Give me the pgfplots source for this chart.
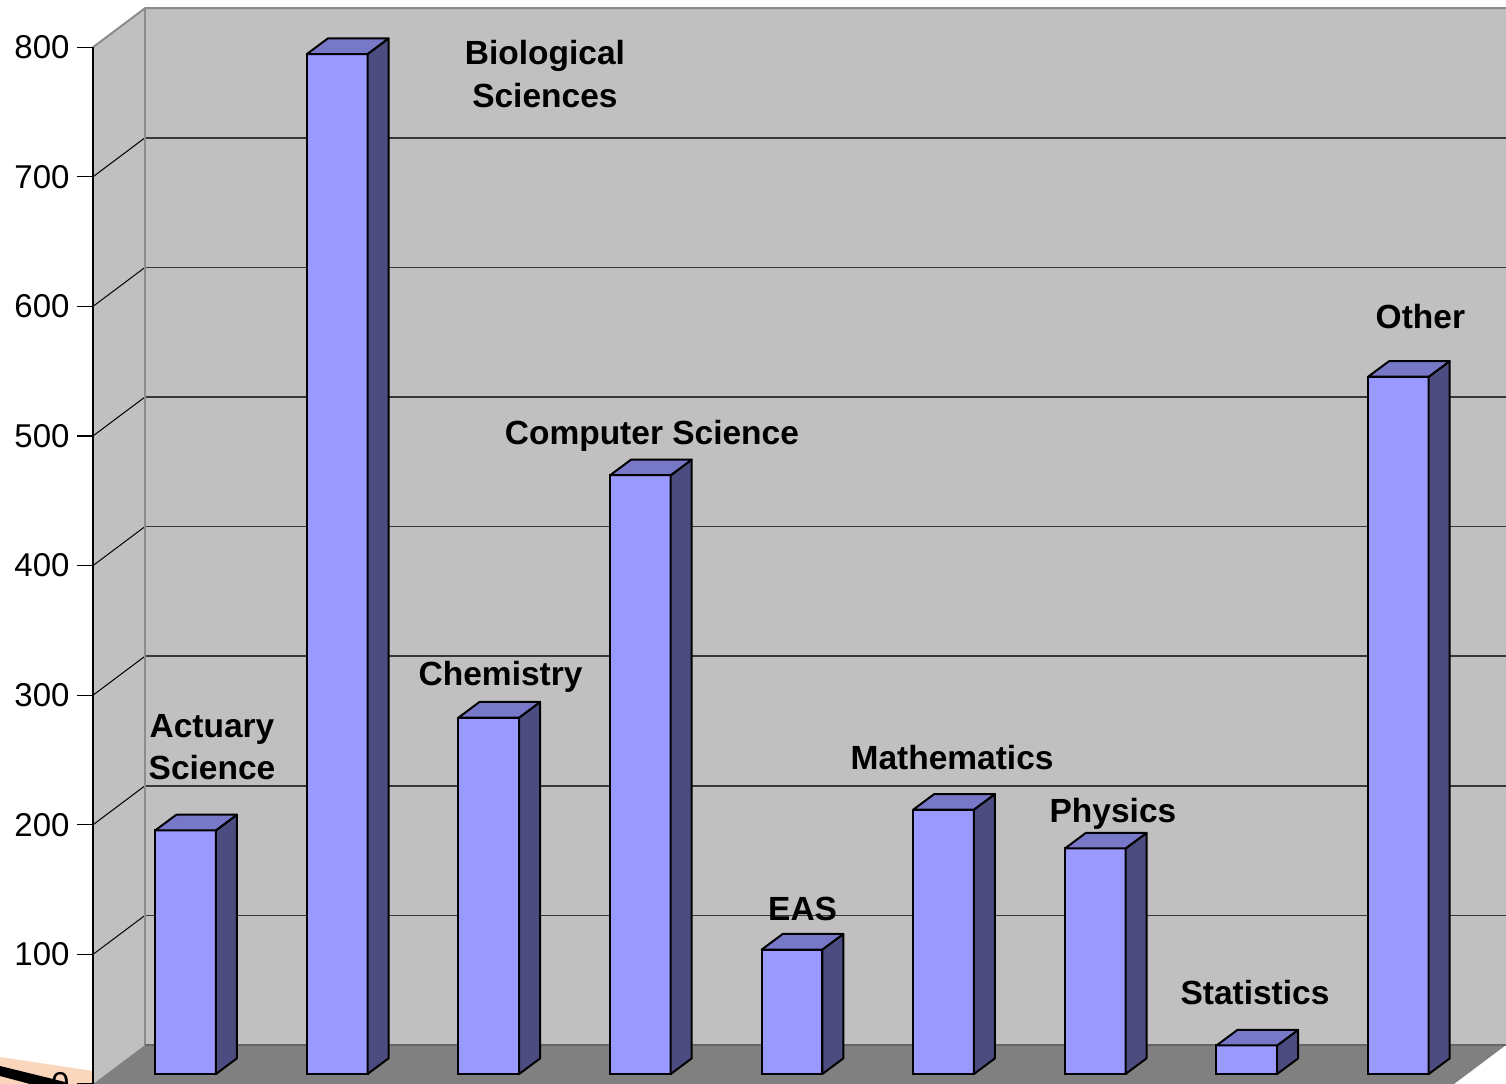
\documentclass[border=0pt]{standalone}
\usepackage{pgfplots}
\usepackage{pgfplotstable}
\pgfplotsset{compat=1.18}
\usepackage{fontspec}
\setmainfont{Liberation Sans}
\definecolor{barfront}{RGB}{153,153,255}
\definecolor{bartop}{RGB}{120,120,200}
\definecolor{barside}{RGB}{76,76,128}
\definecolor{wall}{RGB}{192,192,192}
\definecolor{floorc}{RGB}{128,128,128}
\definecolor{peach}{RGB}{250,214,188}
\tikzset{lab/.style={anchor=base, inner sep=0pt, font=\bfseries\fontsize{13.4}{16}\selectfont},
  tlab/.style={anchor=east, inner sep=0pt, font=\fontsize{13.2}{15}\selectfont}}
\pgfplotstableread{
x v
0 188
1 787
2 275
3 462
4 96
5 204
6 174
7 22
8 538
}\datatable
\begin{document}
\begin{tikzpicture}
\begin{axis}[
  scale only axis, width=602.4pt, height=433.6pt,
  xmin=-1.2243, xmax=8.7098, ymin=-7.716, ymax=828.70,
  axis lines=none, clip=true,
]
% back wall
\addplot[fill=wall, draw=none] coordinates {(-0.2678,22.37) (8.7098,22.37) (8.7098,822.37) (-0.2678,822.37)} -- cycle;
% left wall
\addplot[fill=wall, draw=none] coordinates {(-0.6108,-7.716) (-0.6108,792.284) (-0.2678,822.37) (-0.2678,22.37)} -- cycle;
% floor
\addplot[fill=floorc, draw=none] coordinates {(-0.6108,-7.716) (8.367,-7.716) (8.7098,22.37) (-0.2678,22.37)} -- cycle;
% gridlines
\pgfplotsforeachungrouped \g in {100,200,...,700}{
  \pgfmathsetmacro\gb{\g+22.37}
  \pgfmathsetmacro\gf{\g-7.716}
  \edef\doit{\noexpand\addplot[black!78, line width=0.7pt] coordinates {(-0.2678,\gb) (8.7098,\gb)};
  \noexpand\addplot[black, line width=0.4pt] coordinates {(-0.6108,\gf) (-0.2678,\gb)};}\doit
}
% wall edges
\addplot[black!45, line width=0.8pt] coordinates {(-0.6108,792.284) (-0.2678,822.37) (8.7098,822.37)};
\addplot[black!45, line width=0.8pt] coordinates {(-0.2678,822.37) (-0.2678,22.37)};
\addplot[black!60, line width=0.8pt] coordinates {(-0.2678,22.37) (8.7098,22.37)};
% artifact bottom-left
\addplot[fill=peach, draw=none] coordinates {(-1.2243,13.12) (-0.6108,2.31) (-0.6108,-7.716) (-1.2243,-7.716)} -- cycle;
\addplot[fill=black, draw=none] coordinates {(-1.2243,6.17) (-0.7955,-6.17) (-0.7955,-7.716) (-1.0264,-7.716) (-1.2243,-1.54)} -- cycle;
% front axis and ticks
\addplot[black, line width=0.8pt] coordinates {(-0.6108,-7.716) (-0.6108,792.284)};
\pgfplotsforeachungrouped \g in {0,100,...,800}{
  \pgfmathsetmacro\gf{\g-7.716}
  \edef\doit{\noexpand\addplot[black, line width=0.45pt] coordinates {(-0.7164,\gf) (-0.6108,\gf)};
  \noexpand\node[tlab] at (axis cs:-0.7625,\gf) {\g};}\doit
}
% bars: front faces
\addplot[ybar, bar width=0.4, fill=barfront, draw=black, line width=0.8pt] table[x=x, y=v]{\datatable};
% bars: side and top faces
\pgfplotstablegetrowsof{\datatable}
\pgfmathtruncatemacro\nrows{\pgfplotsretval-1}
\pgfplotsforeachungrouped \r in {0,...,\nrows}{
  \pgfplotstablegetelem{\r}{x}\of\datatable \let\xx\pgfplotsretval
  \pgfplotstablegetelem{\r}{v}\of\datatable \let\vv\pgfplotsretval
  \pgfmathsetmacro\xa{\xx-0.2}
  \pgfmathsetmacro\xb{\xx+0.2}
  \pgfmathsetmacro\xc{\xx+0.3385}
  \pgfmathsetmacro\xd{\xx-0.0615}
  \pgfmathsetmacro\vt{\vv+12.04}
  \edef\doit{\noexpand\addplot[fill=barside, draw=black, line width=0.8pt, line join=round] coordinates {(\xb,0) (\xc,12.04) (\xc,\vt) (\xb,\vv)} -- cycle;
  \noexpand\addplot[fill=bartop, draw=black, line width=0.8pt, line join=round] coordinates {(\xa,\vv) (\xb,\vv) (\xc,\vt) (\xd,\vt)} -- cycle;}\doit
}
% labels
\node[lab] at (axis cs:0.174,260.0) {Actuary};
\node[lab] at (axis cs:0.174,227.6) {Science};
\node[lab] at (axis cs:2.370,779.3) {Biological};
\node[lab] at (axis cs:2.370,745.4) {Sciences};
\node[lab] at (axis cs:2.078,299.4) {Chemistry};
\node[lab] at (axis cs:3.076,486.1) {Computer Science};
\node[lab] at (axis cs:4.070,118.1) {EAS};
\node[lab] at (axis cs:5.056,234.6) {Mathematics};
\node[lab] at (axis cs:6.117,193.7) {Physics};
\node[lab] at (axis cs:7.054,54.0) {Statistics};
\node[lab] at (axis cs:8.145,575.6) {Other};
\end{axis}
\pgfresetboundingbox
\useasboundingbox (current axis.south west) rectangle (current axis.north east);
\end{tikzpicture}
\end{document}
